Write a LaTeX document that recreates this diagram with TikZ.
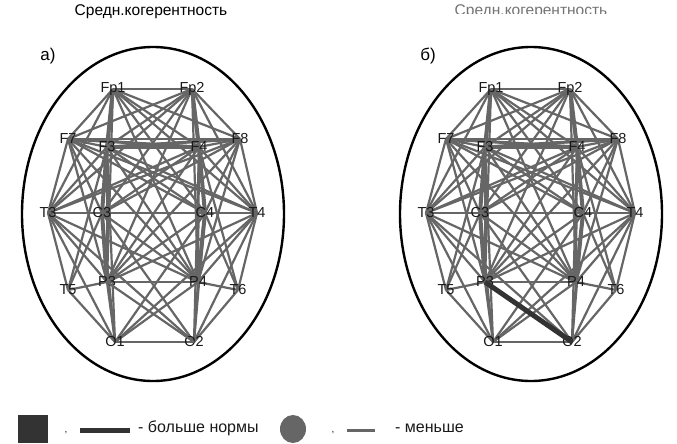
\documentclass[tikz,border=0pt]{standalone}
\usepackage{fontspec}
\setmainfont{Liberation Sans}
\definecolor{edgegray}{HTML}{666666}
\definecolor{darkline}{HTML}{333333}
\begin{document}
\begin{tikzpicture}[x=1pt,y=-1pt,
  edge/.style={draw=edgegray,line width=2.2pt},
  bold edge/.style={draw=edgegray,line width=4pt},
  mid edge/.style={draw=edgegray,line width=3pt},
  norm edge/.style={draw=darkline,line width=5pt},
  head/.style={draw=black,line width=2.4pt},
  lab/.style={font=\fontsize{14.5}{14.5}\selectfont,inner sep=0pt,text=black!90},
  title/.style={font=\fontsize{15.5}{16}\selectfont,inner sep=0pt},
  legtext/.style={font=\fontsize{16}{16}\selectfont,inner sep=0pt,text=black!90},
  panel/.style={font=\fontsize{17}{17}\selectfont,inner sep=0pt}]
\useasboundingbox (0,0) rectangle (677,444);
\foreach \p/\dx in {a/0,b/378}{
\begin{scope}[xshift=\dx]
  \coordinate (\p1) at (113,89);
  \coordinate (\p2) at (192,89);
  \coordinate (\p3) at (68,139);
  \coordinate (\p4) at (107,147);
  \coordinate (\p5) at (199,147);
  \coordinate (\p6) at (240,139);
  \coordinate (\p7) at (48,213);
  \coordinate (\p8) at (102,213);
  \coordinate (\p9) at (205,213);
  \coordinate (\p10) at (257,213);
  \coordinate (\p11) at (107,282);
  \coordinate (\p12) at (198,282);
  \coordinate (\p13) at (68,290);
  \coordinate (\p14) at (238,290);
  \coordinate (\p15) at (115,342);
  \coordinate (\p16) at (194,342);
  \coordinate (\p-hc) at (153,214);
  \draw[head] (\p-hc) ellipse [x radius=131, y radius=167];
  \foreach \i in {1,...,11}{
    \pgfmathtruncatemacro\k{\i+1}
    \foreach \j in {\k,...,12}{\draw[edge] (\p\i) -- (\p\j);}
  }
  \foreach \u/\v in {13/11,13/15,13/7,13/8,13/4,14/12,14/16,14/10,14/9,14/5,
     15/16,15/11,15/12,15/7,15/8,15/9,15/10,15/4,16/12,16/10,16/9,16/8,16/7,16/5}
     {\draw[edge] (\p\u) -- (\p\v);}
  \foreach \u/\v in {1/4,2/5,4/8,8/11,5/9,9/12}{\draw[bold edge] (\p\u) -- (\p\v);}
  \foreach \u/\v in {4/5,3/5,4/6}{\draw[mid edge] (\p\u) -- (\p\v);}
  \foreach \c/\t in {1/Fp1,2/Fp2,3/F7,4/F3,5/F4,6/F8,7/T3,8/C3,9/C4,10/T4,11/P3,12/P4,13/T5,14/T6,15/O1,16/O2}
     {\node[lab] (\p-\t) at (\p\c) {\t};}
\end{scope}
}
\draw[edge] (a11) -- (a16);
\draw[norm edge] (b11) -- (b16);
\node[title] (ta) at (151,12) {Средн.когерентность};
\begin{scope}
  \clip (430,0) rectangle (650,14);
  \node[title,text=black!55] (tb) at (531,12) {Средн.когерентность};
\end{scope}
\node[panel] (pa) at (48,56) {а)};
\node[panel] (pb) at (428,56) {б)};
% legend
\fill[darkline] (18,415) rectangle (48,443);
\node[legtext,font=\fontsize{10}{10}\selectfont] (c1) at (66,433) {,};
\draw[norm edge] (80,430) -- (130,430);
\node[legtext,anchor=west] (l1) at (138,428) {- больше нормы};
\fill[edgegray] (293,429) ellipse [x radius=13, y radius=14];
\node[legtext,font=\fontsize{10}{10}\selectfont] (c2) at (333,433) {,};
\draw[edge,line width=3pt] (347,430) -- (375,430);
\node[legtext,anchor=west] (l2) at (395,428) {- меньше};
\end{tikzpicture}
\end{document}
